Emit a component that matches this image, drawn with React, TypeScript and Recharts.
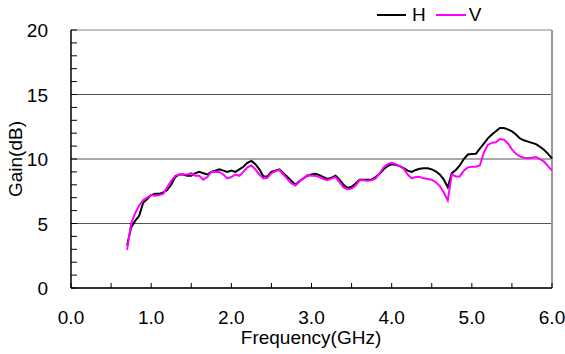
import React from 'react';
import { LineChart, Line, XAxis, YAxis, ReferenceLine } from 'recharts';

// frequency points (GHz)
const freq = [
  0.7, 0.75, 0.8, 0.85, 0.9, 0.95, 1.0, 1.05, 1.1, 1.15,
  1.2, 1.25, 1.3, 1.35, 1.4, 1.45, 1.5, 1.55, 1.6, 1.65,
  1.7, 1.75, 1.8, 1.85, 1.9, 1.95, 2.0, 2.05, 2.1, 2.15,
  2.2, 2.25, 2.3, 2.35, 2.4, 2.45, 2.5, 2.55, 2.6, 2.65,
  2.7, 2.75, 2.8, 2.85, 2.9, 2.95, 3.0, 3.05, 3.1, 3.15,
  3.2, 3.25, 3.3, 3.35, 3.4, 3.45, 3.5, 3.55, 3.6, 3.65,
  3.7, 3.75, 3.8, 3.85, 3.9, 3.95, 4.0, 4.05, 4.1, 4.15,
  4.2, 4.25, 4.3, 4.35, 4.4, 4.45, 4.5, 4.55, 4.6, 4.65,
  4.7, 4.75, 4.8, 4.85, 4.9, 4.95, 5.0, 5.05, 5.1, 5.15,
  5.2, 5.25, 5.3, 5.35, 5.4, 5.45, 5.5, 5.55, 5.6, 5.65,
  5.7, 5.75, 5.8, 5.85, 5.9, 5.95, 6.0,
];

// gain, horizontal polarisation (dB)
const gainH = [
  3.3, 4.7, 5.2, 5.6, 6.6, 6.9, 7.2, 7.3, 7.3, 7.4,
  7.6, 8.0, 8.6, 8.8, 8.8, 8.7, 8.7, 8.9, 9.0, 8.9,
  8.8, 9.0, 9.1, 9.2, 9.1, 9.0, 9.1, 9.0, 9.2, 9.4,
  9.7, 9.85, 9.6, 9.2, 8.65, 8.65, 9.0, 9.1, 9.2, 8.9,
  8.6, 8.3, 8.0, 8.3, 8.5, 8.7, 8.8, 8.85, 8.75, 8.6,
  8.45, 8.55, 8.7, 8.4, 8.0, 7.75, 7.85, 8.1, 8.4, 8.4,
  8.4, 8.4, 8.6, 8.85, 9.2, 9.45, 9.6, 9.55, 9.45, 9.3,
  9.1, 9.0, 9.15, 9.25, 9.28, 9.28, 9.2, 9.05, 8.8, 8.4,
  7.8, 8.9, 9.15, 9.5, 10.0, 10.35, 10.38, 10.4, 10.8, 11.2,
  11.6, 11.9, 12.15, 12.4, 12.4, 12.3, 12.15, 11.9, 11.6, 11.45,
  11.35, 11.25, 11.15, 10.95, 10.72, 10.4, 10.05,
];

// gain, vertical polarisation (dB)
const gainV = [
  2.95, 5.0, 5.8, 6.4, 6.8, 7.0, 7.2, 7.15, 7.2, 7.3,
  7.8, 8.3, 8.7, 8.8, 8.8, 8.8, 8.9, 8.7, 8.7, 8.4,
  8.6, 9.0, 9.0, 9.0, 8.8, 8.5, 8.6, 8.8, 8.7, 9.0,
  9.35, 9.5, 9.2, 8.8, 8.5, 8.55, 8.9, 9.05, 9.15, 8.8,
  8.45, 8.1, 7.95, 8.25, 8.5, 8.75, 8.7, 8.7, 8.6, 8.45,
  8.35, 8.5, 8.6, 8.2, 7.8, 7.65, 7.7, 7.95, 8.35, 8.35,
  8.32, 8.35, 8.5, 8.9, 9.35, 9.6, 9.7, 9.6, 9.45, 9.25,
  8.8, 8.5, 8.6, 8.6, 8.5, 8.45, 8.4, 8.2, 7.9, 7.4,
  6.8, 8.8, 8.65, 8.65, 9.1, 9.35, 9.4, 9.4, 9.5, 10.5,
  11.1, 11.25, 11.3, 11.55, 11.5, 11.2, 10.75, 10.4, 10.2, 10.1,
  10.05, 10.1, 10.15, 10.0, 9.8, 9.45, 9.1,
];

const xTicks = [0, 0.5, 1, 1.5, 2, 2.5, 3, 3.5, 4, 4.5, 5, 5.5, 6];
const yTicks = [0, 1, 2, 3, 4, 5, 6, 7, 8, 9, 10, 11, 12, 13, 14, 15, 16, 17, 18, 19, 20];
const gridValues = [5, 10, 15];

const data = freq.map((f, i) => ({ f, H: gainH[i], V: gainV[i] }));

const FONT = '"Liberation Sans", Arial, sans-serif';

const XTick = (props: any) => {
  const { x, y, payload } = props;
  const major = Number.isInteger(payload.value);
  return (
    <g>
      <line x1={x} y1={y} x2={x} y2={y - 5} stroke="#000" strokeWidth={1} />
      {major && (
        <text x={x} y={y + 36} textAnchor="middle" fontSize={19} fontFamily={FONT} fill="#000">
          {payload.value.toFixed(1)}
        </text>
      )}
    </g>
  );
};

const YTick = (props: any) => {
  const { x, y, payload } = props;
  const major = payload.value % 5 === 0;
  return (
    <g>
      <line x1={x} y1={y} x2={x + 6} y2={y} stroke="#000" strokeWidth={1} />
      {major && (
        <text x={x - 23} y={y + 7} textAnchor="end" fontSize={19} fontFamily={FONT} fill="#000">
          {payload.value}
        </text>
      )}
    </g>
  );
};

export default function App() {
  return (
    <div style={{ position: 'absolute', left: 0, top: 0, width: 565, height: 354, background: '#fff' }}>
      <LineChart
        width={565}
        height={354}
        data={data}
        margin={{ top: 30, right: 13, left: 21, bottom: 26 }}
      >
        {gridValues.map((v) => (
          <ReferenceLine key={v} y={v} stroke="#555" strokeWidth={1.2} />
        ))}
        <ReferenceLine y={20} stroke="#888" strokeWidth={1.2} />
        <ReferenceLine x={6} stroke="#999" strokeWidth={2} />
        <XAxis
          dataKey="f"
          type="number"
          domain={[0, 6]}
          ticks={xTicks}
          interval={0}
          tickSize={0}
          tickMargin={0}
          tickLine={false}
          tick={<XTick />}
          height={40}
          axisLine={{ stroke: '#333', strokeWidth: 2 }}
        />
        <YAxis
          type="number"
          domain={[0, 20]}
          ticks={yTicks}
          interval={0}
          tickSize={0}
          tickMargin={0}
          tickLine={false}
          tick={<YTick />}
          width={50}
          axisLine={{ stroke: '#000', strokeWidth: 1.5 }}
        />
        <Line dataKey="H" stroke="#000" strokeWidth={2} dot={false} isAnimationActive={false} />
        <Line dataKey="V" stroke="#ff00ff" strokeWidth={2} dot={false} isAnimationActive={false} />
        <text
          x={311}
          y={344}
          textAnchor="middle"
          fontSize={19}
          fontFamily={FONT}
          fill="#000"
        >
          Frequency(GHz)
        </text>
        <text
          x={22}
          y={159}
          textAnchor="middle"
          fontSize={19}
          fontFamily={FONT}
          fill="#000"
          transform="rotate(-90 22 159)"
        >
          Gain(dB)
        </text>
      </LineChart>
      <div
        style={{
          position: 'absolute',
          left: 372,
          top: 2,
          width: 117,
          height: 26,
          background: '#fff',
          fontFamily: FONT,
          fontSize: 19,
          display: 'flex',
          alignItems: 'center',
        }}
      >
        <span style={{ display: 'inline-block', width: 29, height: 2, background: '#000', marginLeft: 5 }} />
        <span style={{ marginLeft: 6 }}>H</span>
        <span style={{ display: 'inline-block', width: 30, height: 2, background: '#ff00ff', marginLeft: 10 }} />
        <span style={{ marginLeft: 3 }}>V</span>
      </div>
    </div>
  );
}
